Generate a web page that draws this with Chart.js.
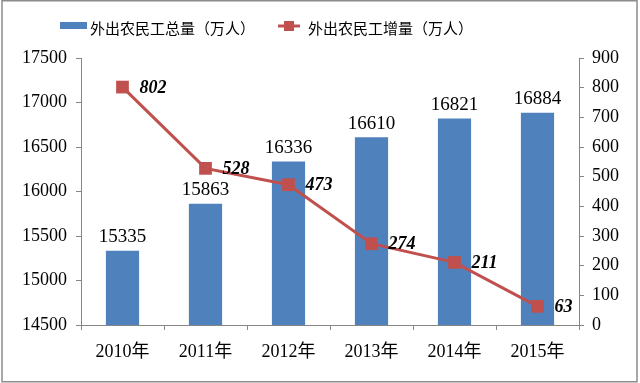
<!DOCTYPE html>
<html lang="zh">
<head>
<meta charset="UTF-8">
<title>外出农民工</title>
<script src="https://cdn.jsdelivr.net/npm/chart.js"></script>
<style>
  html, body { margin: 0; padding: 0; background: #fff; }
  #wrap { width: 640px; height: 383px; }
</style>
</head>
<body>
<div id="wrap"><canvas id="myChart" width="640" height="383"></canvas></div>
<script>
    // dados
    var anos = ['2010年', '2011年', '2012年', '2013年', '2014年', '2015年'];
    var totalMigrantes = [15335, 15863, 16336, 16610, 16821, 16884];
    var aumentoMigrantes = [802, 528, 473, 274, 211, 63];
    var nomeTotal = '外出农民工总量（万人）';
    var nomeAumento = '外出农民工增量（万人）';

    var azul = '#4F81BD';
    var vermelho = '#C0504D';
    var cinza = '#868686';
    var serif = '"Liberation Serif", "Times New Roman", "Noto Sans CJK SC", serif';
    var cjk = '"Noto Sans CJK SC", sans-serif';

    Chart.defaults.color = '#000000';

    function semVirgula(v) { return String(v); }

    // moldura + legenda desenhadas a mao
    const moldura = {
        id: 'moldura',
        beforeDraw(chart) {
            const ctx = chart.ctx;
            ctx.save();
            ctx.fillStyle = '#fff';
            ctx.fillRect(0, 0, chart.width, chart.height);
            ctx.strokeStyle = '#8c8c8c';
            ctx.lineWidth = 1.5;
            ctx.strokeRect(2, 0.75, 635, 381);
            ctx.restore();
        },
        afterDraw(chart) {
            const ctx = chart.ctx;
            ctx.save();
            ctx.font = '15px ' + cjk;
            ctx.textBaseline = 'middle';
            // serie 1
            ctx.fillStyle = azul;
            ctx.fillRect(60, 22, 27, 7);
            ctx.fillStyle = '#000';
            ctx.fillText(nomeTotal, 90, 28);
            // serie 2
            ctx.strokeStyle = vermelho;
            ctx.lineWidth = 3;
            ctx.beginPath();
            ctx.moveTo(278, 26);
            ctx.lineTo(300, 26);
            ctx.stroke();
            ctx.fillStyle = vermelho;
            ctx.fillRect(284, 21, 10, 10);
            ctx.fillStyle = '#000';
            ctx.fillText(nomeAumento, 308, 28);
            ctx.restore();
        }
    };

    const rotulos = {
        id: 'rotulos',
        afterDatasetsDraw(chart) {
            const ctx = chart.ctx;
            ctx.save();
            ctx.fillStyle = '#000';
            // valores das barras
            ctx.font = '19px ' + serif;
            ctx.textAlign = 'center';
            ctx.textBaseline = 'bottom';
            chart.getDatasetMeta(1).data.forEach(function (bar, i) {
                ctx.fillText(String(totalMigrantes[i]), bar.x, bar.y - 4);
            });
            // valores da linha
            ctx.font = 'italic bold 18px ' + serif;
            ctx.textAlign = 'left';
            ctx.textBaseline = 'middle';
            chart.getDatasetMeta(0).data.forEach(function (pt, i) {
                ctx.fillText(String(aumentoMigrantes[i]), pt.x + 17, pt.y + 1);
            });
            ctx.restore();
        }
    };

    const data = {
        labels: anos,
        datasets: [{
            type: 'line',
            label: nomeAumento,
            data: aumentoMigrantes,
            yAxisID: 'y1',
            borderColor: vermelho,
            backgroundColor: vermelho,
            borderWidth: 3,
            pointStyle: 'rect',
            pointRadius: 9,
            pointBorderWidth: 0,
            tension: 0,
            order: 0
        }, {
            type: 'bar',
            label: nomeTotal,
            data: totalMigrantes,
            yAxisID: 'y',
            backgroundColor: azul,
            borderWidth: 0,
            categoryPercentage: 1,
            barPercentage: 0.4,
            order: 1
        }]
    };

    const config = {
        data: data,
        plugins: [moldura, rotulos],
        options: {
            responsive: false,
            animation: false,
            layout: { padding: { top: 58, left: 0, right: 0, bottom: 0 } },
            plugins: {
                legend: { display: false },
                tooltip: { enabled: false }
            },
            scales: {
                x: {
                    offset: true,
                    grid: { display: true, offset: true, drawOnChartArea: false, drawTicks: true, tickLength: 5, color: cinza },
                    border: { display: true, color: cinza, width: 1 },
                    ticks: { font: { family: serif, size: 18 }, padding: 11, maxRotation: 0 },
                    afterFit: function (scale) { scale.height = 58; }
                },
                y: {
                    position: 'left',
                    min: 14500,
                    max: 17500,
                    grid: { display: true, drawOnChartArea: false, drawTicks: true, tickLength: 5, color: cinza },
                    border: { display: true, color: cinza, width: 1 },
                    ticks: { stepSize: 500, font: { family: serif, size: 18 }, padding: 9, callback: semVirgula },
                    afterFit: function (scale) { scale.width = 81; }
                },
                y1: {
                    position: 'right',
                    min: 0,
                    max: 900,
                    grid: { display: true, drawOnChartArea: false, drawTicks: true, tickLength: 5, color: cinza },
                    border: { display: true, color: cinza, width: 1 },
                    ticks: { stepSize: 100, font: { family: serif, size: 18 }, padding: 8, callback: semVirgula },
                    afterFit: function (scale) { scale.width = 61; }
                }
            }
        }
    };

    const myChart = new Chart(document.getElementById('myChart'), config);
</script>
</body>
</html>
